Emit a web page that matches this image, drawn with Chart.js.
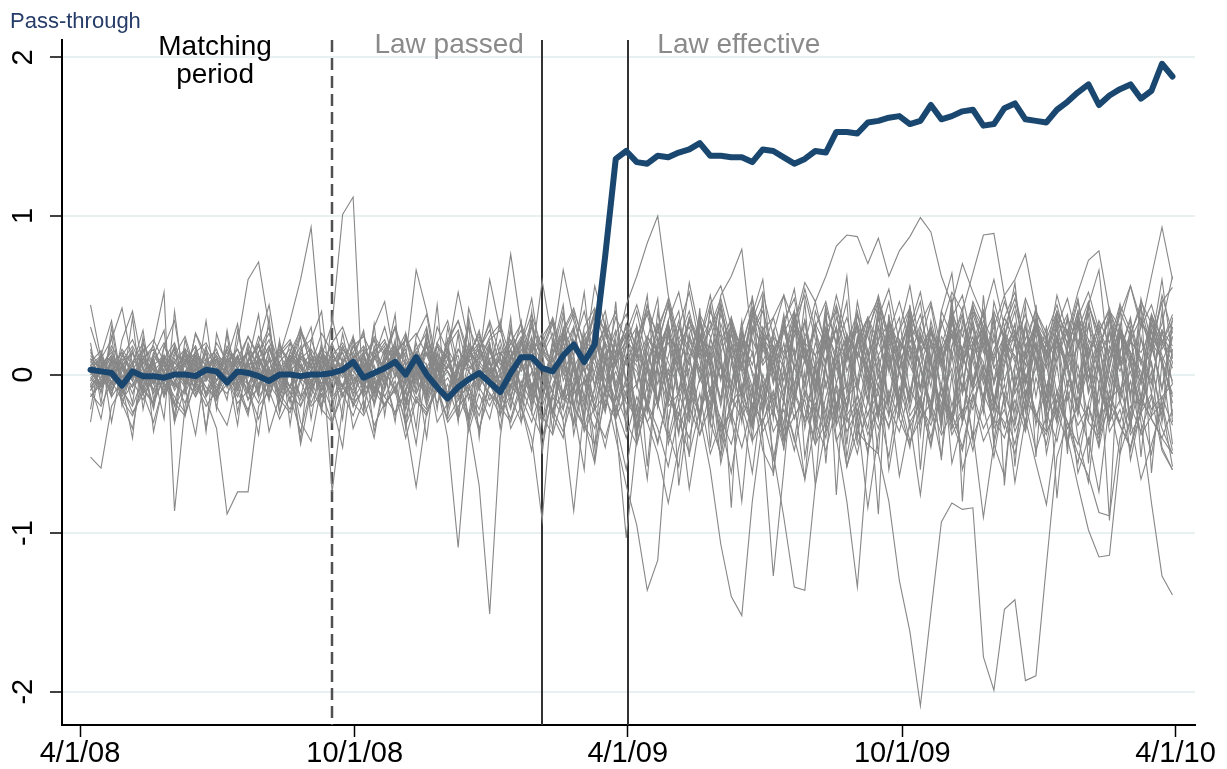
<!DOCTYPE html>
<html>
<head>
<meta charset="utf-8">
<script src="https://cdn.jsdelivr.net/npm/chart.js@4.4.1/dist/chart.umd.min.js"></script>
<style>
html, body { margin: 0; padding: 0; background: #fff; }
#wrap { width: 1227px; height: 769px; }
</style>
</head>
<body>
<div id="wrap"><canvas id="passChart"></canvas></div>
<script>
// weekly data, first observation one week after 4/1/08 (x = days since 4/1/08)
const firstDay = 7;
const stepDays = 7;

const xTickDays = [0, 183, 365, 548, 730];
const xTickLabels = ['4/1/08', '10/1/08', '4/1/09', '10/1/09', '4/1/10'];
const yTickValues = [-2, -1, 0, 1, 2];

// end of matching period, law passed, law effective (days since 4/1/08)
const eventDays = [168, 308, 365];

// treated series (thick blue)
const treated = [
  .03,.02,.01,-.07,.02,-.01,-.01,-.02,.00,.00,-.01,.03,.02,
  -.05,.02,.01,-.01,-.04,.00,.00,-.01,.00,.00,.01,.03,.08,
  -.02,.01,.04,.08,.00,.11,.00,-.08,-.15,-.08,-.03,.01,-.05,
  -.11,.01,.11,.11,.04,.02,.12,.19,.08,.19,.75,1.36,1.41,
  1.34,1.33,1.38,1.37,1.40,1.42,1.46,1.38,1.38,1.37,1.37,1.34,1.42,
  1.41,1.37,1.33,1.36,1.41,1.40,1.53,1.53,1.52,1.59,1.60,1.62,1.63,
  1.58,1.60,1.70,1.61,1.63,1.66,1.67,1.57,1.58,1.68,1.71,1.61,1.60,
  1.59,1.67,1.72,1.78,1.83,1.70,1.76,1.80,1.83,1.74,1.79,1.96,1.88
];

// placebo series (thin gray)
const placebos = [
  [.08,.15,-.05,.12,.22,.05,-.10,.18,.02,-.08,.14,.20,.06,
   -.04,.10,.24,.12,-.06,.16,.08,.30,.04,.12,.32,1.01,1.12,
   -.22,.10,.18,-.02,.24,.08,-.12,.20,.34,.06,-.10,.22,.14,
   .02,.28,.10,-.16,.20,.36,.12,-.08,.30,.42,.18,.06,.32,
   .10,.44,.22,-.06,.30,.52,.18,.04,.38,.20,-.12,.26,.40,
   .16,-.04,.34,.50,.22,.08,.36,.14,-.10,.28,.46,.20,.02,
   .32,.18,-.08,.40,.24,.10,.46,.30,.06,-.14,.22,.38,.16,
   .04,.30,.48,.20,-.02,.26,.42,.14,.34,.08,-.06,.28,.18],
  [-.10,.04,.12,-.14,.02,.16,-.06,.08,-.18,.10,-.02,.14,-.12,
   .06,-.08,.20,.02,-.16,.12,.34,.60,.93,.18,-.74,-.20,.14,
   .26,-.10,.08,.30,-.18,.02,.22,-.06,.16,-.24,.10,.28,-.04,
   .12,-.20,.06,.32,-.14,.20,.04,-.30,.18,.40,-.12,.10,.26,
   -.36,.08,.24,-.18,.30,.12,-.26,.44,.06,-.10,.34,-.22,.16,
   .02,.38,-.16,.22,-.40,.10,.30,-.08,.46,.14,-.28,.20,.36,
   -.12,.24,.08,-.34,.18,.42,-.06,.26,-.20,.12,.32,-.14,.04,
   .30,-.24,.16,.40,-.10,.22,-.30,.14,.36,-.04,.20,.10,-.18],
  [.02,-.06,.10,.04,-.12,.08,.00,-.04,.14,.06,-.10,.02,.12,
   -.08,.20,.60,.71,.30,-.04,.12,.06,-.14,.10,.02,-.08,.18,
   .04,-.12,.10,.20,-.06,.14,-.18,.08,.02,-.10,.16,.06,-.02,
   .10,-.08,.22,.04,-.16,.12,.28,-.04,.18,.06,-.22,.14,.30,
   .12,.02,-.18,.26,.10,-.12,.20,.34,.04,-.08,.24,.14,-.20,
   .08,.30,-.06,.16,.02,-.24,.18,.10,.32,-.04,.12,-.16,.22,
   .06,-.10,.28,.14,-.20,.08,.24,-.06,.16,.30,-.12,.04,.20,
   -.08,.18,.06,-.26,.14,.32,.02,-.14,.22,.10,-.04,.26,.12],
  [-.14,-.04,.08,-.10,.14,-.02,.20,.52,-.86,-.20,.06,-.12,.10,
   -.06,.12,-.16,.04,.18,-.08,.10,-.20,.02,.16,-.10,.06,-.14,
   .08,-.18,.14,.02,-.12,.20,-.04,.10,-.22,.06,.18,-.08,.04,
   -.16,.12,.24,-.10,.06,-.26,.16,.30,-.06,.12,-.20,.08,.22,
   -.28,.14,-.06,.26,-.18,.10,.34,-.12,.06,-.30,.20,.02,-.16,
   .24,-.10,.16,-.34,.08,.28,-.20,.14,-.04,.32,-.26,.10,.18,
   -.22,.12,.30,-.14,.04,-.30,.20,.08,-.18,.26,-.08,.16,-.32,
   .10,.24,-.16,.06,-.28,.18,.34,-.10,.02,-.24,.14,.28,-.06],
  [.44,.10,.22,.42,.06,-.08,.14,.02,.18,-.06,.26,.08,-.04,
   .16,.04,-.12,.10,.22,-.02,.14,.28,.06,-.10,.18,.08,.24,
   .02,.16,-.08,.12,.26,.04,-.14,.20,.10,-.06,.30,.14,.02,
   .22,-.04,.12,.34,.06,-.12,.20,.38,.10,.56,.30,.12,.26,
   .44,.20,.06,.34,.52,.18,.02,.40,.24,-.06,.30,.48,.16,
   .36,.10,.24,.54,.28,.06,.42,.20,.32,.12,.46,.26,.04,
   .30,.52,.18,.08,.38,.24,.44,.14,.30,.50,.20,.06,.34,
   .22,.40,.12,.28,.46,.18,.36,.08,.26,.42,.16,.32,.62],
  [-.52,-.59,-.20,-.08,-.24,-.12,-.30,-.06,-.18,-.26,-.04,-.16,-.34,
   -.88,-.74,-.74,-.20,-.10,-.28,-.14,-.36,-.08,-.22,-.30,-.12,-.26,
   -.06,-.32,-.18,-.10,-.40,-.16,-.24,-.08,-.30,-.20,-.12,-.36,-.04,
   -.22,-.14,-.30,-.06,-.26,-.38,-.12,-.20,-.32,-.44,-.16,-.28,-.10,
   -.34,-.20,-.42,-.14,-.28,-.50,-.22,-.08,-.36,-.24,-.46,-.18,-.30,
   -.12,-.40,-.26,-.16,-.44,-.30,-.10,-.36,-.22,-.48,-.20,-.32,-.14,
   -.42,-.28,-.18,-.38,-.24,-.46,-.12,-.34,-.20,-.30,-.50,-.16,-.26,
   -.36,-.22,-.44,-.14,-.30,-.40,-.18,-.32,-.46,-.24,-.12,-.34,-.50],
  [.06,-.02,.12,.04,-.08,.10,.18,.00,-.06,.14,.08,-.12,.02,
   .10,-.04,.16,.06,-.10,.20,.02,-.14,.12,.08,-.06,.18,.04,
   -.10,.14,.22,.04,-.18,.12,.30,-.06,-.40,-1.09,-.30,.06,.20,
   -.12,.28,.10,-.20,.16,.34,-.04,.12,-.26,.22,.40,.06,-.14,
   .30,-.10,.18,.44,.02,-.22,.26,.10,-.16,.36,.14,-.08,.24,
   -.20,.32,.12,-.06,.40,.20,-.24,.14,.30,-.10,.22,.46,.04,
   .16,-.18,.34,.08,.26,-.12,.38,.18,-.04,.28,.10,-.22,.32,
   .12,.36,-.08,.20,.42,.02,-.16,.30,.14,-.06,.38,.22,.08],
  [-.04,.08,-.10,.02,.14,-.06,.04,-.12,.10,.00,-.08,.16,.04,
   -.02,-.14,.06,.12,-.04,.08,-.16,.02,.10,-.06,.14,.00,-.10,
   .12,-.06,.04,.16,-.10,.08,-.20,.02,.14,-.12,-.30,-.70,-1.51,
   -.40,.10,.22,-.08,.14,-.24,.06,.30,-.16,.02,.20,-.28,.12,
   .06,-.22,.16,.32,-.12,.04,-.30,.22,.10,-.18,.28,.00,-.24,
   .18,.04,-.20,.26,.12,-.34,.08,.24,-.06,.16,-.26,.34,.02,
   -.14,.22,.08,-.28,.18,.30,-.10,.04,-.32,.20,.12,-.06,.26,
   -.20,.10,.28,-.12,.06,-.36,.18,.02,.24,-.14,.08,-.30,.16],
  [.10,.04,.16,-.02,.08,.20,.06,-.06,.12,.24,.02,.10,-.04,
   .18,.08,.00,.14,.26,.06,-.08,.16,.22,.04,.12,.20,.08,
   -.02,.24,.14,.30,.10,.66,.40,.06,.18,.28,.02,.14,.34,
   .12,.22,.04,.30,.16,.08,.26,.40,.20,.10,.32,.18,.06,
   .24,.38,.12,.20,.02,.34,.16,.28,.44,.10,.22,.06,.30,
   .14,.26,.40,.08,.32,.18,.50,.24,.12,.36,.20,.04,.28,
   .42,.16,.30,.08,.24,.38,.12,.34,.20,.46,.26,.10,.32,
   .18,.28,.06,.36,.22,.14,.40,.24,.10,.30,.44,.20,.34],
  [-.08,.02,-.14,-.04,.06,-.10,-.18,.00,-.06,-.12,.04,-.08,-.16,
   -.02,-.10,.06,-.14,-.04,.02,-.12,-.20,-.06,.04,-.16,-.08,.00,
   -.14,-.04,-.20,-.08,-.30,-.71,-.24,-.10,-.18,.02,-.12,-.26,-.06,
   -.20,-.02,-.14,-.30,-.08,-.22,-.36,-.12,-.04,-.26,-.40,-.16,-.06,
   -.32,-.18,-.44,-.10,-.26,-.06,-.38,-.20,-.52,-.14,-.28,-.08,-.36,
   -.22,-.46,-.12,-.30,-.18,-.40,-.06,-.26,-.50,-.16,-.34,-.10,-.28,
   -.44,-.20,-.32,-.08,-.38,-.24,-.14,-.42,-.28,-.06,-.36,-.18,-.48,
   -.26,-.12,-.34,-.20,-.44,-.08,-.30,-.16,-.38,-.24,-.50,-.14,-.32],
  [.04,-.06,.08,-.12,.00,.10,-.04,.06,-.10,.02,.12,-.02,.08,
   -.06,.04,.14,-.08,.02,-.14,.10,.04,-.08,.16,-.02,.06,-.12,
   .00,.12,-.06,.08,-.16,.04,.14,-.10,.06,-.04,.10,.18,-.08,
   .04,.16,-.20,-.40,-.92,-.10,.20,.06,-.14,.24,.10,-.30,-1.03,
   -.40,.06,.30,-.10,.18,-.24,.36,.12,-.16,.26,.02,-.32,.20,
   .08,-.14,.32,.16,-.28,.22,.04,-.20,.38,.12,-.08,.26,-.18,
   .30,.06,-.24,.18,.40,-.12,.10,.28,-.06,.20,-.30,.14,.34,
   -.10,.24,.02,-.22,.32,.16,-.08,.26,.06,-.20,.36,.12,-.04],
  [-.02,.06,-.08,.12,.02,-.04,.08,-.14,.04,.10,-.06,.00,.14,
   .04,-.10,.08,.18,-.02,.06,-.12,.10,.02,-.06,.12,.04,-.08,
   .10,-.02,.16,-.10,.06,.12,-.04,.20,-.14,.08,.02,-.10,.16,
   -.06,.12,.22,-.08,.14,.04,-.30,-.86,-.20,.16,-.10,-.40,-.70,
   -.95,-1.36,-1.17,-.30,.10,-.20,.24,.06,-.34,.18,-.12,.30,-.06,
   -.26,.12,.34,-.14,.20,.02,-.30,.26,.10,-.18,.36,.04,-.22,
   .18,-.08,.28,.10,-.34,.16,.32,-.02,-.24,.22,.08,-.16,.30,
   .06,-.28,.20,.34,-.12,.10,-.30,.24,.14,-.06,.28,-.20,.08],
  [.12,.02,.18,.06,-.04,.14,.22,.08,.00,.16,.10,-.02,.20,
   .08,.16,.02,.24,.12,-.04,.20,.10,.06,.26,.14,.02,.18,
   .24,.10,.30,.04,.18,.26,.12,-.02,.22,.34,.08,.16,.28,
   .06,.20,.32,.14,.26,.02,.36,.18,.10,.40,.28,.14,.44,
   .62,.83,1.00,.50,.22,.40,.12,.30,.48,.20,.06,.34,.52,
   .24,.14,.40,.08,.30,.46,.18,.36,.10,.26,.50,.22,.12,
   .38,.20,.44,.06,.32,.16,.42,.28,.08,.36,.52,.18,.30,
   .14,.40,.24,.48,.10,.34,.20,.44,.28,.06,.38,.16,.30],
  [-.10,-.02,.06,-.16,-.06,.04,-.12,.02,-.20,-.08,.08,-.14,-.04,
   .02,-.12,-.22,-.06,.04,-.16,-.08,.06,-.18,-.02,-.10,.04,-.20,
   -.08,.06,-.14,-.24,-.02,-.12,.04,-.18,-.06,-.28,-.10,.02,-.16,
   -.04,-.22,.08,-.12,-.30,-.06,.10,-.20,-.34,-.08,.14,-.24,-.02,
   -.32,.04,-.18,-.40,-.10,.12,-.26,-.60,-1.07,-1.40,-1.52,-.80,-.30,
   -.10,-.36,.06,-.22,-.44,-.14,.08,-.30,-.18,-.50,-.06,-.26,.04,
   -.34,-.16,-.46,-.08,-.28,.02,-.40,-.20,-.52,-.12,-.32,.00,-.24,
   -.44,-.10,-.30,-.56,-.18,.06,-.36,-.22,-.48,-.14,-.28,-.40,-.50],
  [.00,.10,-.06,.04,.16,-.10,.06,.12,-.04,.08,-.12,.02,.10,
   -.08,.06,.14,-.02,.10,-.12,.04,.18,-.06,.08,.02,-.14,.06,
   .14,-.08,.02,.12,-.18,.06,.20,-.04,.10,-.12,.16,.04,-.06,
   .18,-.14,.06,.24,-.08,.12,-.22,.28,.02,-.16,.20,.10,-.26,
   .30,-.06,.20,.44,.12,-.18,.32,.08,.50,.62,.79,.20,-.40,
   -1.27,-.60,.10,.34,-.14,.26,-.30,.18,.40,.02,-.22,.36,.10,
   -.18,.30,.08,-.26,.42,.14,-.10,.24,.38,-.20,.06,.32,-.14,
   .22,-.30,.16,.40,.04,-.18,.28,.10,-.26,.34,.18,-.08,.24],
  [.06,-.08,.02,.14,-.02,.08,-.10,.04,.16,-.06,.10,-.14,.04,
   .12,-.04,.08,-.10,.16,.00,-.08,.12,.04,-.14,.10,.06,-.02,
   -.06,.14,.04,-.12,.10,-.02,.18,-.08,.06,.12,-.16,.08,.00,
   .10,-.10,.16,.04,-.18,.22,.08,-.12,.26,.00,-.24,.14,.30,
   -.08,.20,-.20,.12,.34,-.02,-.26,.16,.28,-.14,.06,.38,-.06,
   -.50,-.90,-1.34,-1.36,-.70,.08,.30,-.12,.22,.04,-.28,.32,.14,
   -.16,.26,.06,-.22,.36,.12,-.08,.30,-.18,.18,.40,-.04,.20,
   -.24,.14,.34,-.10,.22,.02,-.30,.28,.12,-.16,.32,.06,-.12],
  [-.06,.04,.12,-.04,.08,-.12,.02,.10,-.08,.06,.14,-.02,-.10,
   .04,.12,-.06,.02,-.14,.08,.16,-.04,.10,-.10,.02,.14,-.06,
   .08,-.12,.02,.16,-.06,.10,-.16,.04,.12,-.08,.20,-.02,.08,
   -.16,.06,.20,-.10,.12,.26,-.14,.04,.18,-.22,.10,.28,-.04,
   .16,-.24,.08,.32,-.12,.22,.04,-.30,.18,.36,-.08,.14,-.20,
   .28,.06,-.16,.34,-.06,.20,-.40,-.80,-1.34,-.50,.30,.10,-.22,
   .26,.04,-.18,.34,.12,-.28,.20,.40,-.06,.16,-.24,.30,.08,
   -.14,.24,.38,-.02,.18,-.32,.10,.28,-.12,.22,.06,-.26,.36],
  [.02,.12,-.02,.08,.18,.04,-.06,.10,.20,.00,.14,.06,-.04,
   .16,.06,.24,.10,-.02,.18,.08,.26,.12,.02,.20,.30,.10,
   .04,.22,.12,.30,.06,.16,.26,.02,.20,.34,.14,.08,.24,
   .32,.10,.20,.38,.16,.04,.28,.42,.18,.30,.08,.36,.22,
   .12,.40,.26,.48,.14,.34,.20,.44,.56,.30,.18,.42,.28,
   .36,.50,.32,.58,.46,.62,.81,.88,.87,.70,.86,.62,.78,
   .87,.99,.90,.62,.44,.70,.52,.36,.60,.30,.48,.22,.40,
   .26,.44,.18,.36,.52,.28,.14,.40,.24,.46,.32,.20,.38],
  [-.12,-.20,-.04,-.16,-.26,-.08,-.18,-.02,-.14,-.24,-.06,-.20,-.10,
   -.02,-.18,-.10,-.28,-.06,-.16,-.24,-.04,-.20,-.12,-.30,-.08,-.18,
   -.26,-.10,-.20,-.04,-.32,-.14,-.22,-.08,-.28,-.16,-.06,-.34,-.12,
   -.20,-.30,-.08,-.24,-.40,-.14,-.28,-.06,-.36,-.20,-.46,-.12,-.30,
   -.44,-.18,-.34,-.58,-.24,-.40,-.12,-.50,-.30,-.62,-.20,-.42,-.28,
   -.54,-.16,-.40,-.66,-.30,-.48,-.20,-.58,-.36,-.44,-.50,-.80,-1.30,
   -1.62,-2.09,-1.50,-.93,-.81,-.85,-.84,-1.78,-1.99,-1.48,-1.42,-1.93,-1.90,
   -1.20,-.52,-.30,-.44,-.20,-.38,-.10,-.32,-.46,-.16,-.28,-.40,-.22],
  [.08,.00,-.10,.06,.14,-.04,.10,-.14,.02,.12,-.06,.08,.16,
   -.04,.10,.02,-.12,.16,.06,-.08,.04,.14,-.10,.08,-.02,.12,
   .02,-.14,.10,.18,-.04,.06,-.12,.14,.02,-.08,.12,.20,-.06,
   .14,.04,-.18,.20,.08,-.12,.26,.02,-.20,.16,.30,-.08,.10,
   -.22,.18,.32,-.04,.12,-.28,.24,.06,-.16,.34,.10,-.24,.20,
   .04,-.32,.28,.14,-.12,.36,-.06,.22,-.26,.10,.30,-.18,.16,
   .34,-.10,.20,-.30,.12,.38,-.04,.24,-.20,.08,.32,-.14,.18,
   -.30,.06,-.40,-.70,-.98,-1.15,-1.14,-.50,.10,-.24,.20,-.10,.30],
  [-.14,-.06,.04,-.10,-.20,-.02,.06,-.12,-.04,-.18,.02,-.08,-.14,
   -.06,.02,-.16,-.08,.04,-.12,-.22,-.02,-.10,.06,-.14,-.06,-.18,
   -.10,-.02,-.20,-.08,.04,-.16,-.26,-.06,.02,-.14,-.08,-.22,.00,
   -.12,-.28,-.04,-.18,.06,-.24,-.10,-.32,-.02,-.20,.08,-.26,-.14,
   -.06,-.30,-.16,.04,-.36,-.12,-.24,.02,-.40,-.18,-.08,-.32,.00,
   -.22,-.42,-.10,-.28,.04,-.36,-.18,-.06,-.44,-.24,-.12,-.34,.02,
   -.26,-.14,-.40,-.08,-.30,-.48,-.16,.00,-.34,-.22,-.44,-.10,-.28,
   -.38,-.16,-.30,-.50,-.64,-.87,-.89,-.40,-.20,-.36,-.14,-.48,-.60],
  [.04,.10,-.02,.16,.06,-.08,.12,.02,-.06,.08,.18,-.04,.06,
   .14,-.02,.08,.20,.02,-.10,.12,.06,-.04,.16,.10,-.08,.04,
   .12,.22,-.04,.08,.16,-.12,.04,.18,.06,-.06,.14,.24,.02,
   -.08,.16,.28,.04,-.14,.20,.10,-.22,.24,.36,.02,-.16,.18,
   .30,.06,-.20,.24,.40,-.08,.16,-.26,.32,.12,-.14,.28,.44,
   .02,-.18,.34,.20,-.10,.38,-.24,.14,.28,-.06,.42,.10,-.20,
   .26,.46,-.02,.18,-.28,.34,.12,-.16,.40,.22,-.08,.30,.06,
   -.22,.36,.14,-.10,.44,.24,-.04,.30,.08,-.30,-.81,-1.27,-1.39],
  [-.04,.06,.14,.00,-.08,.10,.04,-.12,.08,.16,-.02,.06,.12,
   .02,-.08,.10,.18,.04,-.06,.14,.08,-.10,.06,.20,.00,.10,
   .16,.04,-.10,.14,.22,.02,-.08,.18,.10,-.04,.12,.26,.06,
   -.02,.20,.10,-.14,.24,.34,.06,-.10,.22,.14,.30,-.06,.18,
   .40,.08,-.16,.26,.12,.36,-.04,.22,.44,.10,-.12,.30,.18,
   .06,.34,.48,.14,-.08,.28,.40,.02,.22,.36,.12,.26,.46,
   .20,.38,.10,.30,.52,.40,.64,.88,.89,.50,.60,.76,.40,
   .22,.08,.36,.18,.44,.26,.10,.38,.56,.30,.62,.93,.60],
  [.10,-.04,.06,.14,.02,-.10,.08,.20,.04,-.06,.12,.02,-.08,
   .06,.16,-.02,.10,.00,.14,.22,.04,-.06,.12,.06,.18,.02,
   -.06,.10,.20,.06,.14,-.04,.24,.08,-.12,.16,.04,.10,.22,
   .28,.06,-.08,.22,.14,.32,.00,.18,.40,.10,-.10,.26,.38,
   .14,.02,.30,.46,.20,.06,.38,.24,-.04,.32,.16,.42,.08,
   .26,.50,.12,.34,.04,.22,.44,.18,.30,.08,.36,.54,.20,
   .10,.32,.46,.16,.28,.04,.40,.24,.12,.36,.20,.48,.30,
   .14,.38,.26,.52,.72,.78,.40,.30,.56,.34,.22,.46,.55],
  [.02,-.08,.10,.04,-.02,.12,-.06,.08,.00,.14,-.04,.06,.10,
   -.02,.08,.14,-.06,.04,.12,.20,-.04,.06,.16,.02,-.08,.10,
   .18,.04,-.06,.12,.22,.08,-.04,.30,.14,.52,.20,.10,.60,
   .28,.76,.30,.10,.59,.20,.66,.34,.12,.40,.26,.06,.32,
   .18,.44,.10,.28,.02,.36,.22,.50,.14,.30,.06,.40,.24,
   .12,.32,.04,.20,.46,.16,.28,.08,.38,.24,.02,.34,.18,
   .42,.14,.26,.06,.36,.50,.18,.30,.10,.24,.44,.16,.28,
   .08,.34,.20,.46,.12,.28,.40,.06,.22,.36,.14,.50,.26],
  [-.08,.02,-.12,.06,-.04,-.16,.00,-.10,.08,-.02,-.14,.04,-.06,
   -.12,.00,-.06,-.18,.02,-.10,.06,-.14,-.04,-.20,.00,-.08,-.16,
   -.04,-.18,.04,-.10,-.22,-.02,-.14,.06,-.20,-.08,-.28,-.02,-.12,
   -.26,-.06,-.16,.02,-.30,-.12,-.22,.04,-.18,-.34,-.08,-.20,-.40,
   -.14,-.30,-.50,-.81,-.46,-.20,-.38,-.10,-.28,-.44,-.16,-.32,-.06,
   -.36,-.22,-.48,-.12,-.30,-.04,-.42,-.26,-.14,-.38,-.20,-.52,-.08,
   -.30,-.18,-.44,-.06,-.34,-.22,-.48,-.12,-.28,-.40,-.16,-.36,-.02,
   -.24,-.42,-.10,-.32,-.20,-.46,-.14,-.30,-.04,-.38,-.26,-.18,-.48],
  [.06,.12,.00,.08,-.04,.10,.16,.02,.08,-.02,.12,.06,.00,
   .10,.04,.14,-.02,.08,.12,.02,.10,.16,.04,-.04,.08,.14,
   .00,.10,.06,.14,.02,.08,-.06,.12,.04,.16,.06,-.02,.10,
   .14,.04,.20,.08,-.04,.16,.10,.22,.02,.12,.26,.06,.18,
   .08,.24,.14,.00,.20,.30,.10,.18,-.02,.26,.12,.22,.06,
   .16,.28,.04,.20,.12,.30,.08,.24,.14,.02,.22,.32,.10,
   .18,.06,.26,.14,.34,.08,.20,.28,.04,.16,.24,.12,.30,
   .10,.22,.04,.18,.30,.12,.26,.06,.20,.14,.28,.08,.24],
  [-.02,-.10,.04,-.06,.02,-.12,-.04,.06,-.08,.00,-.14,-.02,.04,
   -.06,.02,-.10,-.02,-.14,.04,-.08,-.16,.00,-.06,.06,-.12,-.04,
   .02,-.08,-.14,.00,-.06,-.18,.04,-.10,-.02,-.16,.02,-.08,-.20,
   -.04,-.14,.06,-.10,-.20,.00,-.16,-.08,.04,-.22,-.12,.02,-.18,
   -.26,-.08,.04,-.20,-.12,-.30,-.02,-.18,.06,-.24,-.10,-.34,-.04,
   -.16,.02,-.28,-.10,-.22,.04,-.32,-.14,-.06,-.26,.00,-.20,-.36,
   -.08,-.24,.02,-.18,-.30,-.06,-.22,.06,-.14,-.34,-.10,-.02,-.26,
   -.12,-.30,-.04,-.20,.04,-.28,-.16,-.08,-.32,-.02,-.22,-.14,-.06],
  [.00,.06,-.06,.10,.02,-.04,.08,-.08,.04,.12,-.02,.06,-.10,
   .08,-.06,.02,.10,-.08,.04,.12,-.04,.02,-.10,.08,.14,-.04,
   .06,-.10,.12,.00,.08,-.06,.14,.04,-.12,.06,.10,-.04,.08,
   -.10,.12,.02,.16,-.08,.06,-.14,.18,.08,-.06,.20,-.12,.10,
   .02,-.18,.22,.08,-.10,.26,-.04,.14,-.20,.18,.04,-.14,.28,
   -.06,.20,-.16,.10,.30,-.08,.16,-.22,.24,.02,-.12,.18,-.26,
   .12,-.20,.22,.04,-.28,.16,.08,-.16,.26,-.04,.20,-.24,.10,
   -.14,.24,.06,-.22,.18,-.06,.28,-.18,.12,.02,-.26,.20,.04],
  [.14,.04,.10,-.02,.06,.16,-.06,.12,.02,.08,.18,-.04,.10,
   .00,.12,-.06,.06,.18,.02,-.08,.14,.04,.10,-.02,.16,.06,
   .12,-.04,.08,.18,.00,.14,.06,-.08,.16,.04,.10,-.06,.18,
   .02,.16,-.08,.10,.22,.04,-.12,.18,.06,.26,-.04,.12,.20,
   -.06,.24,.10,-.14,.30,.16,.02,-.20,.22,.34,.06,-.10,.26,
   .18,-.16,.32,.08,-.04,.28,.12,-.24,.20,.36,-.02,.14,-.18,
   .30,.06,-.20,.24,.14,-.08,.34,.02,-.22,.18,.28,-.06,.16,
   .24,-.12,.10,.32,-.04,.20,-.18,.28,.14,-.02,.36,.08,-.14],
  [.20,-.18,.30,-.10,.36,-.22,.12,.28,-.30,.16,-.08,.34,-.14,
   .26,-.24,.08,.38,-.16,.22,-.32,.14,.30,-.20,.10,-.28,.24,
   -.12,.32,-.26,.18,.06,-.34,.28,-.10,.22,-.30,.36,-.04,.20,
   -.26,.30,-.14,.40,-.32,.16,.44,-.20,.08,-.46,.34,-.12,.26,
   -.40,.22,.48,-.30,.10,-.52,.36,.04,-.44,.28,-.18,.50,-.26,
   .14,-.48,.40,-.08,.32,-.56,.20,.46,-.34,.06,-.50,.38,-.16,
   .44,-.30,.12,-.54,.36,.02,-.42,.50,-.20,.28,-.58,.16,.42,
   -.36,.24,-.50,.34,.08,-.46,.40,-.14,.30,-.52,.18,.46,-.30],
  [-.22,.14,-.30,.06,-.18,.24,-.36,-.04,.18,-.26,.10,-.34,.02,
   -.16,.28,-.06,-.38,.12,-.24,.04,-.44,-.10,.20,-.30,.08,-.20,
   .16,-.36,-.08,.22,-.28,.02,-.40,.14,-.18,.26,-.32,-.06,.10,
   -.34,.06,-.22,.18,-.46,-.12,.24,-.38,-.02,-.54,.10,-.30,-.60,
   -.20,-.66,.04,-.44,-.18,-.72,-.30,.08,-.56,-.24,-.80,-.10,-.48,
   -.62,-.16,-.42,.02,-.70,-.34,-.06,-.58,-.26,-.84,-.38,-.12,-.64,
   -.30,-.76,-.20,-.52,.00,-.60,-.36,-.90,-.44,-.14,-.68,-.28,-.56,
   -.82,-.34,-.10,-.62,-.40,-.74,-.18,-.50,-.28,-.66,-.44,-.20,-.58],
  [.30,.08,-.14,.22,.40,.04,-.20,.18,.34,-.06,.26,.12,-.16,
   .10,.32,-.10,.20,.44,.02,-.18,.28,.14,-.24,.36,.06,.22,
   -.14,.30,.46,.08,-.22,.24,.38,-.02,.16,-.28,.42,.18,.00,
   .34,-.16,.20,.48,.04,-.26,.30,.12,.52,-.10,.24,.40,-.08,
   .18,.50,-.20,.32,.08,.58,.26,-.14,.44,.14,-.30,.38,.60,
   -.04,.30,.54,.10,-.24,.42,.20,.62,-.12,.34,.48,.02,.28,
   .56,.16,-.28,.40,.64,.08,.30,-.18,.46,.22,.58,-.06,.36,
   .12,.50,.26,-.22,.44,.66,.04,.32,-.16,.48,.20,.60,.10],
  [-.30,.12,.34,-.06,-.40,.20,.02,-.28,.40,-.12,.16,-.36,.26,
   .04,-.32,.18,-.14,.36,-.24,.08,-.42,.22,.40,-.18,-.46,.10,
   .28,-.20,.06,.38,-.34,.14,-.10,.44,-.26,.02,.32,-.40,.18,
   -.08,.36,-.30,.22,-.50,.12,.40,-.22,-.60,.30,-.14,.46,-.36,
   .20,-.58,.10,.34,-.70,-.20,.42,-.46,.16,-.84,.28,-.30,.50,
   -.64,.06,.38,-.52,-.12,.44,-.76,.22,-.40,.00,-.88,.34,-.20,
   .40,-.60,.12,-.34,.48,-.80,.18,-.24,.36,-.70,.04,.44,-.52,
   .26,-.78,-.10,.38,-.56,.14,-.92,.30,-.36,.46,-.62,.08,-.44],
  [.16,-.12,.24,-.20,.06,.28,-.16,.10,-.26,.22,-.04,.18,-.22,
   .28,-.08,-.26,.14,.30,-.18,.06,.24,-.28,.12,-.14,.26,-.06,
   -.24,.18,.02,-.30,.26,-.10,.20,-.22,.30,-.02,-.26,.16,.32,
   -.18,.08,.34,-.24,.14,-.36,.28,.04,-.30,.38,-.12,.22,-.34,
   .30,-.22,.40,-.06,-.38,.24,.10,-.32,.44,-.14,.18,-.42,.26,
   -.28,.36,-.10,.46,-.34,.08,.30,-.44,.20,-.16,.42,-.26,.12,
   .34,-.38,.22,-.08,.48,-.30,.14,.40,-.42,.06,.26,-.36,.44,
   -.20,.32,-.46,.16,.38,-.28,.04,.44,-.34,.24,-.12,.40,-.26],
  [-.06,-.28,.10,-.18,-.34,.02,-.22,.12,-.30,-.08,-.38,.06,-.20,
   -.32,-.04,-.24,.08,-.36,-.14,.04,-.30,-.42,-.06,-.22,.10,-.34,
   -.16,-.40,.00,-.26,-.10,-.44,.06,-.30,-.18,.04,-.36,-.12,-.28,
   .02,-.34,-.20,-.48,.00,-.26,-.40,.10,-.30,-.56,-.08,-.22,.12,
   -.44,-.14,.16,-.36,-.58,-.04,.20,-.30,-.50,.08,-.24,-.62,-.10,
   .14,-.40,-.18,-.66,.06,-.28,.18,-.52,-.12,-.34,.10,-.60,-.20,
   -.46,.04,-.26,.16,-.56,-.30,-.08,.20,-.44,-.64,.00,-.32,.12,
   -.50,-.16,.08,-.40,-.68,-.06,-.28,.14,-.54,-.22,.02,-.46,-.60]
];

function toPoints(series) {
  return series.map(function (v, i) {
    return { x: firstDay + stepDays * i, y: v };
  });
}

const grayColor = '#878787';
const blueColor = '#1a476f';
const fontName = '"Liberation Sans", Arial, sans-serif';

const datasets = [{
  data: toPoints(treated),
  borderColor: blueColor,
  borderWidth: 6,
  pointRadius: 0,
  borderJoinStyle: 'round',
  borderCapStyle: 'round',
  tension: 0
}];
placebos.forEach(function (s) {
  datasets.push({
    data: toPoints(s),
    borderColor: grayColor,
    borderWidth: 1.1,
    pointRadius: 0,
    tension: 0
  });
});

// vertical event lines, drawn under the series
const eventLines = {
  id: 'eventLines',
  beforeDatasetsDraw(chart) {
    const ctx = chart.ctx;
    const area = chart.chartArea;
    const xs = chart.scales.x;
    ctx.save();
    eventDays.forEach(function (d, k) {
      const px = Math.round(xs.getPixelForValue(d));
      ctx.beginPath();
      if (k === 0) {
        ctx.lineWidth = 2.5;
        ctx.strokeStyle = '#505050';
        ctx.setLineDash([12, 6]);
      } else {
        ctx.lineWidth = 2;
        ctx.strokeStyle = '#333333';
        ctx.setLineDash([]);
      }
      ctx.moveTo(px, area.top);
      ctx.lineTo(px, area.bottom);
      ctx.stroke();
    });
    ctx.restore();
  }
};

// rotated y labels, axis title and period labels
const textLayer = {
  id: 'textLayer',
  afterDraw(chart) {
    const ctx = chart.ctx;
    const xs = chart.scales.x;
    const ys = chart.scales.y;
    ctx.save();
    ctx.fillStyle = '#000';
    ctx.font = '29px ' + fontName;
    ctx.textAlign = 'center';
    ctx.textBaseline = 'middle';
    yTickValues.forEach(function (v) {
      ctx.save();
      ctx.translate(24, ys.getPixelForValue(v));
      ctx.rotate(-Math.PI / 2);
      ctx.fillText(String(v), 0, 0);
      ctx.restore();
    });

    ctx.textAlign = 'left';
    ctx.textBaseline = 'alphabetic';
    ctx.fillStyle = '#263c68';
    ctx.font = '22px ' + fontName;
    ctx.fillText('Pass-through', 10, 28);

    ctx.textAlign = 'center';
    ctx.font = '28px ' + fontName;
    ctx.fillStyle = '#000';
    ctx.fillText('Matching', xs.getPixelForValue(90), 55);
    ctx.fillText('period', xs.getPixelForValue(90), 83);
    ctx.fillStyle = '#8a8a8a';
    ctx.fillText('Law passed', xs.getPixelForValue(246), 53);
    ctx.fillText('Law effective', xs.getPixelForValue(439), 53);
    ctx.restore();
  }
};

new Chart(document.getElementById('passChart'), {
  type: 'line',
  data: { datasets: datasets },
  options: {
    responsive: true,
    maintainAspectRatio: false,
    animation: false,
    devicePixelRatio: 1,
    layout: { padding: { top: 40, right: 32, left: 0, bottom: 0 } },
    plugins: { legend: { display: false }, tooltip: { enabled: false } },
    scales: {
      x: {
        type: 'linear',
        min: -12,
        max: 743,
        afterBuildTicks: function (scale) {
          scale.ticks = xTickDays.map(function (d) { return { value: d }; });
        },
        afterFit: function (scale) { scale.height = 44; },
        ticks: {
          autoSkip: false,
          maxRotation: 0,
          padding: 0,
          color: '#000',
          font: { family: fontName, size: 29 },
          callback: function (value) {
            const k = xTickDays.indexOf(value);
            return k >= 0 ? xTickLabels[k] : '';
          }
        },
        grid: {
          drawOnChartArea: false,
          drawTicks: true,
          tickLength: 12,
          tickColor: '#000',
          tickWidth: 1.5
        },
        border: { display: true, color: '#000', width: 2 }
      },
      y: {
        min: -2.21,
        max: 2.11,
        afterBuildTicks: function (scale) {
          scale.ticks = yTickValues.map(function (v) { return { value: v }; });
        },
        afterFit: function (scale) { scale.width = 62; },
        ticks: { display: false },
        grid: {
          color: '#e8f0f2',
          lineWidth: 2,
          drawTicks: true,
          tickLength: 12,
          tickColor: '#000',
          tickWidth: 1.5
        },
        border: { display: true, color: '#000', width: 2 }
      }
    }
  },
  plugins: [eventLines, textLayer]
});
</script>
</body>
</html>
